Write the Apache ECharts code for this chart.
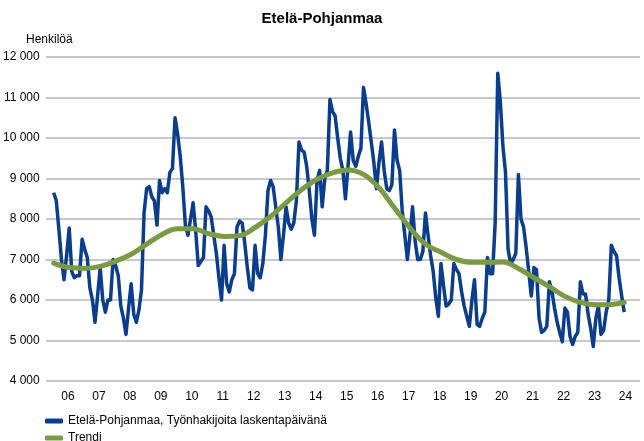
<!DOCTYPE html>
<html>
<head>
<meta charset="utf-8">
<script src="https://cdn.jsdelivr.net/npm/echarts@6/dist/echarts.min.js"></script>
<style>
html, body { margin: 0; padding: 0; background: #fff; }
#chart { width: 644px; height: 441px; }
</style>
</head>
<body>
<div id="chart"></div>
<script>
// year labels shown under the middle of each year
const yearLabels = ['06', '07', '08', '09', '10', '11', '12', '13', '14', '15', '16', '17', '18', '19', '20', '21', '22', '23', '24']

// monthly job seekers, Jan 2006 .. Jun 2024
const seekers2006_2011 = [
  8650, 8450, 7750, 7000, 6500, 7100, 7780, 6700, 6550, 6600, 6600, 7500,
  7250, 7050, 6300, 6000, 5450, 6100, 6800, 6000, 5700, 6000, 6000, 7000,
  6850, 6600, 5850, 5550, 5150, 5800, 6400, 5650, 5450, 5750, 6250, 8150,
  8750, 8800, 8550, 8450, 7850, 8950, 8650, 8750, 8650, 9150, 9250, 10500,
  10100, 9550, 8800, 7850, 7600, 8000, 8400, 7700, 6850, 6950, 7050, 8300,
  8200, 8050, 7600, 7150, 6550, 6000, 7350, 6400, 6200, 6500, 6650, 7800
]
const seekers2012_2017 = [
  7950, 7900, 7400, 6800, 6300, 6250, 7350, 6650, 6550, 6900, 7600, 8700,
  8950, 8800, 8300, 7800, 7000, 7600, 8300, 7900, 7750, 7900, 8450, 9900,
  9700, 9650, 9300, 8700, 8000, 7600, 8950, 9200, 8300, 9000, 9200, 10950,
  10650, 10550, 10000, 9500, 9200, 8500, 9300, 10150, 9450, 9300, 9550, 9750,
  11250, 10850, 10400, 9900, 9400, 8750, 9400, 9900, 9200, 8750, 8700, 8850,
  10200, 9450, 9200, 8200, 7600, 7000, 7600, 8300, 7450, 7000, 7000, 7200
]
const seekers2018_2024 = [
  8150, 7600, 7100, 6700, 6050, 5600, 6900, 6350, 5850, 5900, 6000, 6900,
  6750, 6650, 6200, 5850, 5600, 5350, 6000, 6500, 5400, 5350, 5550, 5700,
  7050, 6650, 6650, 7900, 11600, 10900, 9800, 9150, 7250, 6900, 7000, 7150,
  9100, 8000, 7800, 7300, 6700, 6100, 6800, 6750, 5550, 5200, 5250, 5350,
  6450, 6200, 5800, 5450, 5200, 4970, 5800, 5700, 5100, 4900, 5100, 5200,
  6450, 6150, 6150, 5650, 5300, 4850, 5550, 5850, 5150, 5250, 5700, 6000,
  7350, 7200, 7100, 6550, 6100, 5700
]
const seekers = seekers2006_2011.concat(seekers2012_2017, seekers2018_2024)

const trendMonths = [0, 6, 12, 18, 24, 30, 36, 42, 48, 54, 60, 66, 72, 78, 84, 90, 96, 102, 108,
  114, 120, 126, 132, 138, 144, 150, 156, 162, 168, 174, 180, 186, 192, 198, 204, 210, 216, 221]
const trendValues = [6910, 6800, 6780, 6830, 6960, 7130, 7380, 7620, 7760, 7760, 7640, 7570, 7590,
  7790, 8060, 8400, 8720, 8980, 9140, 9210, 9100, 8770, 8270, 7780, 7380, 7180, 7000, 6930,
  6930, 6940, 6780, 6550, 6330, 6090, 5940, 5880, 5890, 5940]

const seriesNames = ['Etelä-Pohjanmaa, Työnhakijoita laskentapäivänä', 'Trendi']

const font = "'Liberation Sans', Arial, sans-serif"
const fmt = v => String(v).replace(/\B(?=(\d{3})+(?!\d))/g, ' ')

const legendItem = (name, top) => ({
  left: 40,
  top,
  icon: 'roundRect',
  itemWidth: 18,
  itemHeight: 5,
  textStyle: { fontSize: 12, color: '#000', fontFamily: font },
  data: [name]
})

const chart = echarts.init(document.getElementById('chart'))
chart.setOption({
  animation: false,
  textStyle: { fontFamily: font },
  title: [
    {
      text: 'Etelä-Pohjanmaa',
      left: 'center',
      top: 6,
      textStyle: { fontSize: 15, fontWeight: 'bold', color: '#000', fontFamily: font }
    },
    {
      text: 'Henkilöä',
      left: 21,
      top: 29,
      textStyle: { fontSize: 12, fontWeight: 'normal', color: '#000', fontFamily: font }
    }
  ],
  grid: { left: 43, right: 4, top: 57, bottom: 60 },
  legend: [legendItem(seriesNames[0], 410), legendItem(seriesNames[1], 427)],
  xAxis: {
    type: 'value',
    min: -3.1,
    max: 227.1,
    splitLine: { show: false },
    axisLine: { show: false },
    axisTick: { show: false },
    axisLabel: {
      customValues: yearLabels.map((_, i) => i * 12 + 5.5),
      formatter: v => yearLabels[Math.round((v - 5.5) / 12)],
      fontSize: 12,
      color: '#000',
      margin: 10
    }
  },
  yAxis: {
    type: 'value',
    min: 4000,
    max: 12000,
    interval: 1000,
    axisLine: { show: false },
    axisTick: { show: false },
    axisLabel: { formatter: fmt, fontSize: 12, color: '#000', margin: 6 },
    splitLine: { lineStyle: { color: '#c8c8c8', width: 2 } }
  },
  series: [
    {
      name: seriesNames[0],
      type: 'line',
      data: seekers.map((v, i) => [i, v]),
      showSymbol: false,
      itemStyle: { color: '#0a3d8c' },
      lineStyle: { color: '#0a3d8c', width: 3.5, join: 'round' }
    },
    {
      name: seriesNames[1],
      type: 'line',
      data: trendMonths.map((m, i) => [m, trendValues[i]]),
      smooth: 0.4,
      showSymbol: false,
      itemStyle: { color: '#7a9a43' },
      lineStyle: { color: '#7a9a43', width: 5, cap: 'round' }
    }
  ]
})
</script>
</body>
</html>
